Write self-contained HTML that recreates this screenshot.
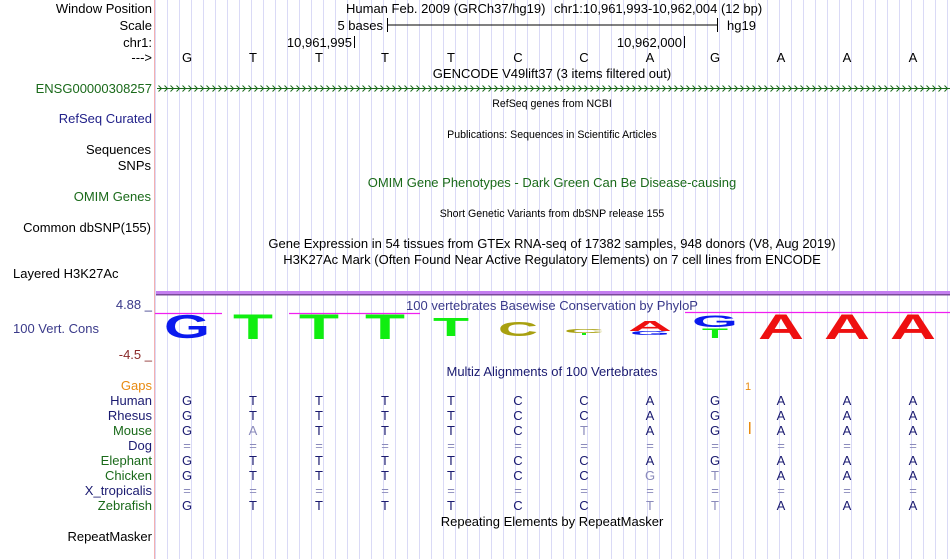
<!DOCTYPE html>
<html><head><meta charset="utf-8"><style>
html,body{margin:0;padding:0;background:#fff;}
svg{display:block;font-family:"Liberation Sans",sans-serif;}
</style></head><body>
<svg width="950" height="559" viewBox="0 0 950 559" xmlns="http://www.w3.org/2000/svg">
<defs>
<pattern id="grid" x="167" y="0" width="12" height="559" patternUnits="userSpaceOnUse">
<rect x="0" y="0" width="1" height="559" fill="#dadaf6"/>
</pattern>
<pattern id="chev" x="157" y="84" width="6" height="9" patternUnits="userSpaceOnUse">
<path d="M1.5 1.5 L4.5 4.5 L1.5 7.5" stroke="#1a6a1a" stroke-width="1" fill="none"/>
</pattern>
</defs>
<rect width="950" height="559" fill="#fff"/>
<rect x="155" y="0" width="795" height="559" fill="url(#grid)"/>
<rect x="154" y="0" width="1" height="559" fill="#f4b0b0"/>

<g font-size="13" text-anchor="end" fill="#000">
<text x="152" y="13">Window Position</text>
<text x="152" y="30">Scale</text>
<text x="152" y="47">chr1:</text>
<text x="152" y="62">---&gt;</text>
<text x="152" y="93" fill="#1a6a1a">ENSG00000308257</text>
<text x="152" y="123" fill="#22228a">RefSeq Curated</text>
<text x="151" y="154">Sequences</text>
<text x="151" y="170">SNPs</text>
<text x="151" y="201" fill="#1a6a1a">OMIM Genes</text>
<text x="151" y="232">Common dbSNP(155)</text>
<text x="152" y="309" fill="#3a3a8a">4.88 _</text>
<text x="152" y="359" fill="#8a2a2a">-4.5 _</text>
<text x="152" y="390" fill="#e88a10">Gaps</text>
<text x="152" y="405" fill="#1a1a70">Human</text>
<text x="152" y="420" fill="#1a1a70">Rhesus</text>
<text x="152" y="435" fill="#1a6a1a">Mouse</text>
<text x="152" y="450" fill="#1a1a70">Dog</text>
<text x="152" y="465" fill="#1a6a1a">Elephant</text>
<text x="152" y="480" fill="#1a6a1a">Chicken</text>
<text x="152" y="495" fill="#1a1a70">X_tropicalis</text>
<text x="152" y="510" fill="#1a6a1a">Zebrafish</text>
<text x="152" y="541">RepeatMasker</text>
</g>
<text x="13" y="278" font-size="13">Layered H3K27Ac</text>
<text x="13" y="333" font-size="13" fill="#3a3a8a">100 Vert. Cons</text>

<g font-size="13">
<text x="346" y="13">Human Feb. 2009 (GRCh37/hg19)</text>
<text x="554" y="13">chr1:10,961,993-10,962,004 (12 bp)</text>
<text x="383" y="30" text-anchor="end">5 bases</text>
<text x="727" y="30">hg19</text>
<text x="352" y="47" text-anchor="end">10,961,995</text>
<text x="682" y="47" text-anchor="end">10,962,000</text>
</g>
<line x1="387" y1="25" x2="717" y2="25" stroke="#000"/>
<line x1="387.5" y1="18" x2="387.5" y2="32" stroke="#000"/>
<line x1="717.5" y1="18" x2="717.5" y2="32" stroke="#000"/>
<line x1="354.5" y1="36" x2="354.5" y2="48" stroke="#000"/>
<line x1="684.5" y1="36" x2="684.5" y2="48" stroke="#000"/>

<g font-size="13" text-anchor="middle">
<text x="187" y="62">G</text><text x="253" y="62">T</text><text x="319" y="62">T</text><text x="385" y="62">T</text>
<text x="451" y="62">T</text><text x="518" y="62">C</text><text x="584" y="62">C</text><text x="650" y="62">A</text>
<text x="715" y="62">G</text><text x="781" y="62">A</text><text x="847" y="62">A</text><text x="913" y="62">A</text>
<text x="552" y="78">GENCODE V49lift37 (3 items filtered out)</text>
</g>
<line x1="157" y1="88.5" x2="950" y2="88.5" stroke="#1a6a1a"/>
<rect x="157" y="84" width="793" height="9" fill="url(#chev)"/>

<g font-size="10.6" text-anchor="middle">
<text x="552" y="107">RefSeq genes from NCBI</text>
<text x="552" y="138">Publications: Sequences in Scientific Articles</text>
<text x="552" y="217">Short Genetic Variants from dbSNP release 155</text>
</g>
<g font-size="13" text-anchor="middle">
<text x="552" y="187" fill="#1a6a1a">OMIM Gene Phenotypes - Dark Green Can Be Disease-causing</text>
<text x="552" y="248">Gene Expression in 54 tissues from GTEx RNA-seq of 17382 samples, 948 donors (V8, Aug 2019)</text>
<text x="552" y="264">H3K27Ac Mark (Often Found Near Active Regulatory Elements) on 7 cell lines from ENCODE</text>
<text x="552" y="310" fill="#3a3a8a">100 vertebrates Basewise Conservation by PhyloP</text>
<text x="552" y="376" fill="#1a1a70">Multiz Alignments of 100 Vertebrates</text>
<text x="552" y="526">Repeating Elements by RepeatMasker</text>
</g>

<rect x="156" y="291" width="794" height="3" fill="#c47ef0"/>
<rect x="156" y="294" width="794" height="1.5" fill="#7a4a9a"/>
<g stroke="#f020f0" stroke-width="1.2">
<line x1="155" y1="313.5" x2="222" y2="313.5"/>
<line x1="289" y1="313.5" x2="420" y2="313.5"/>
<line x1="685" y1="312.5" x2="950" y2="312.5"/>
</g>

<g text-anchor="middle" font-weight="bold" font-family="Liberation Sans, sans-serif">
<text x="187" y="338" font-size="33" fill="#0a1aee" textLength="46" lengthAdjust="spacingAndGlyphs">G</text>
<text x="253" y="339" font-size="35" fill="#10ee10" textLength="40" lengthAdjust="spacingAndGlyphs">T</text>
<text x="319" y="339" font-size="35" fill="#10ee10" textLength="40" lengthAdjust="spacingAndGlyphs">T</text>
<text x="385" y="339" font-size="35" fill="#10ee10" textLength="40" lengthAdjust="spacingAndGlyphs">T</text>
<text x="451" y="336" font-size="26" fill="#10ee10" textLength="36" lengthAdjust="spacingAndGlyphs">T</text>
<text x="518" y="336" font-size="20" fill="#a8a010" textLength="40" lengthAdjust="spacingAndGlyphs">C</text>
<text x="584" y="333" font-size="5" fill="#a8a010" textLength="40" lengthAdjust="spacingAndGlyphs">C</text>
<rect x="582" y="333" width="4" height="2" fill="#10ee10"/>
<text x="650" y="331" font-size="15" fill="#ee1010" textLength="44" lengthAdjust="spacingAndGlyphs">A</text>
<text x="650" y="335" font-size="5" fill="#0a1aee" textLength="40" lengthAdjust="spacingAndGlyphs">G</text>
<text x="715" y="327" font-size="17" fill="#0a1aee" textLength="46" lengthAdjust="spacingAndGlyphs">G</text>
<text x="715" y="338" font-size="14" fill="#10ee10" textLength="26" lengthAdjust="spacingAndGlyphs">T</text>
<text x="781" y="339" font-size="35" fill="#ee1010" textLength="46" lengthAdjust="spacingAndGlyphs">A</text>
<text x="847" y="339" font-size="35" fill="#ee1010" textLength="46" lengthAdjust="spacingAndGlyphs">A</text>
<text x="913" y="339" font-size="35" fill="#ee1010" textLength="46" lengthAdjust="spacingAndGlyphs">A</text>
</g>

<text x="748" y="390" font-size="11" fill="#e88a10" text-anchor="middle">1</text>
<rect x="749" y="422" width="1.5" height="12" fill="#e88a10"/>

<g font-size="13" text-anchor="middle" fill="#1a1a70">
<g transform="translate(0,405)">
<text x="187">G</text><text x="253">T</text><text x="319">T</text><text x="385">T</text><text x="451">T</text><text x="518">C</text><text x="584">C</text><text x="650">A</text><text x="715">G</text><text x="781">A</text><text x="847">A</text><text x="913">A</text>
</g>
<g transform="translate(0,420)">
<text x="187">G</text><text x="253">T</text><text x="319">T</text><text x="385">T</text><text x="451">T</text><text x="518">C</text><text x="584">C</text><text x="650">A</text><text x="715">G</text><text x="781">A</text><text x="847">A</text><text x="913">A</text>
</g>
<g transform="translate(0,435)">
<text x="187">G</text><text x="253" fill="#8a8abb">A</text><text x="319">T</text><text x="385">T</text><text x="451">T</text><text x="518">C</text><text x="584" fill="#8a8abb">T</text><text x="650">A</text><text x="715">G</text><text x="781">A</text><text x="847">A</text><text x="913">A</text>
</g>
<g transform="translate(0,450)" fill="#8a8abb">
<text x="187">=</text><text x="253">=</text><text x="319">=</text><text x="385">=</text><text x="451">=</text><text x="518">=</text><text x="584">=</text><text x="650">=</text><text x="715">=</text><text x="781">=</text><text x="847">=</text><text x="913">=</text>
</g>
<g transform="translate(0,465)">
<text x="187">G</text><text x="253">T</text><text x="319">T</text><text x="385">T</text><text x="451">T</text><text x="518">C</text><text x="584">C</text><text x="650">A</text><text x="715">G</text><text x="781">A</text><text x="847">A</text><text x="913">A</text>
</g>
<g transform="translate(0,480)">
<text x="187">G</text><text x="253">T</text><text x="319">T</text><text x="385">T</text><text x="451">T</text><text x="518">C</text><text x="584">C</text><text x="650" fill="#8a8abb">G</text><text x="715" fill="#8a8abb">T</text><text x="781">A</text><text x="847">A</text><text x="913">A</text>
</g>
<g transform="translate(0,495)" fill="#8a8abb">
<text x="187">=</text><text x="253">=</text><text x="319">=</text><text x="385">=</text><text x="451">=</text><text x="518">=</text><text x="584">=</text><text x="650">=</text><text x="715">=</text><text x="781">=</text><text x="847">=</text><text x="913">=</text>
</g>
<g transform="translate(0,510)">
<text x="187">G</text><text x="253">T</text><text x="319">T</text><text x="385">T</text><text x="451">T</text><text x="518">C</text><text x="584">C</text><text x="650" fill="#8a8abb">T</text><text x="715" fill="#8a8abb">T</text><text x="781">A</text><text x="847">A</text><text x="913">A</text>
</g>
</g>
</svg>
</body></html>
